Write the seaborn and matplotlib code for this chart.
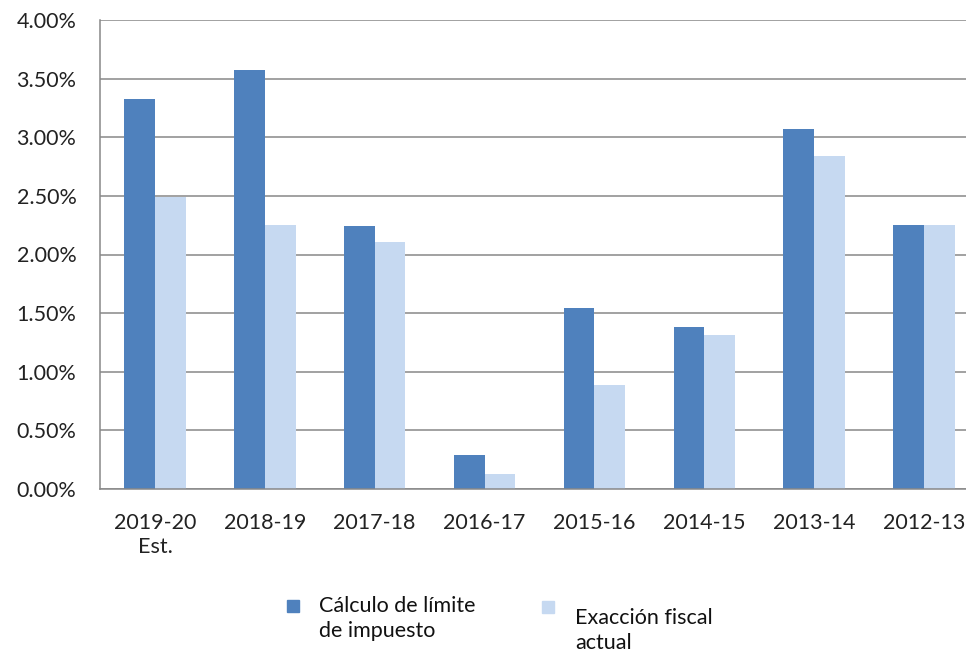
import numpy as np
import pandas as pd
import seaborn as sns
import matplotlib.pyplot as plt
from matplotlib.patches import Rectangle
from matplotlib.ticker import FuncFormatter, MultipleLocator, FixedLocator

years = ["2019-20\nEst.", "2018-19", "2017-18", "2016-17", "2015-16", "2014-15", "2013-14", "2012-13"]
limite = [3.33, 3.57, 2.24, 0.29, 1.54, 1.38, 3.07, 2.25]
exaccion = [2.49, 2.25, 2.11, 0.13, 0.89, 1.31, 2.84, 2.25]
series = ["Cálculo de límite\nde impuesto", "Exacción fiscal\nactual"]
colors = ["#4F81BD", "#C6D9F1"]

df = pd.DataFrame({
    "year": years * 2,
    "value": limite + exaccion,
    "series": [series[0]] * len(years) + [series[1]] * len(years),
})

sns.set_style("white")
plt.rcParams["font.family"] = ["Lato", "DejaVu Sans"]
grid_col = "#888888"
fs = 15.5

fig = plt.figure(figsize=(9.66, 6.53), dpi=100)
ax = fig.add_axes([100 / 966, 1 - 489 / 653, 879 / 966, 469 / 653])

sns.barplot(data=df, x="year", y="value", hue="series", palette=colors,
            width=0.56, gap=0, ax=ax, legend=False, saturation=1, linewidth=0)

ax.set_xlim(-0.5, len(years) - 0.5)
ax.set_ylim(0, 4.0)
ax.yaxis.set_major_locator(MultipleLocator(0.5))
ax.yaxis.set_major_formatter(FuncFormatter(lambda v, p: f"{v:.2f}%"))
ax.grid(axis="y", color=grid_col, lw=1.1)
ax.set_axisbelow(True)
ax.set_xlabel("")
ax.set_ylabel("")

for s in ["top", "right"]:
    ax.spines[s].set_visible(False)
for s in ["left", "bottom"]:
    ax.spines[s].set_color(grid_col)
    ax.spines[s].set_linewidth(1.1)

ax.tick_params(axis="y", length=5, color=grid_col, labelsize=fs, labelcolor="#222222", pad=12)
ax.tick_params(axis="x", which="major", length=0, labelsize=fs, labelcolor="#222222", pad=17)
ax.xaxis.set_minor_locator(FixedLocator(np.arange(-0.5, len(years), 1.0)))
ax.tick_params(axis="x", which="minor", length=6, color=grid_col, width=1.1)
for lbl in ax.get_xticklabels():
    lbl.set_linespacing(1.3)

# legend drawn by hand: handle lines up with the first text line
leg_items = [(287, 600, 319, 596), (542, 601, 575, 608)]
for (hx, hy, tx, ty), lab, col in zip(leg_items, series, colors):
    fig.patches.append(Rectangle((hx / 966, 1 - (hy + 12) / 653), 12 / 966, 12 / 653,
                                 transform=fig.transFigure, color=col, figure=fig))
    fig.text(tx / 966, 1 - ty / 653, lab, fontsize=fs, color="#111111",
             va="top", ha="left", linespacing=1.3)

fig.savefig("out.png", dpi=100)
